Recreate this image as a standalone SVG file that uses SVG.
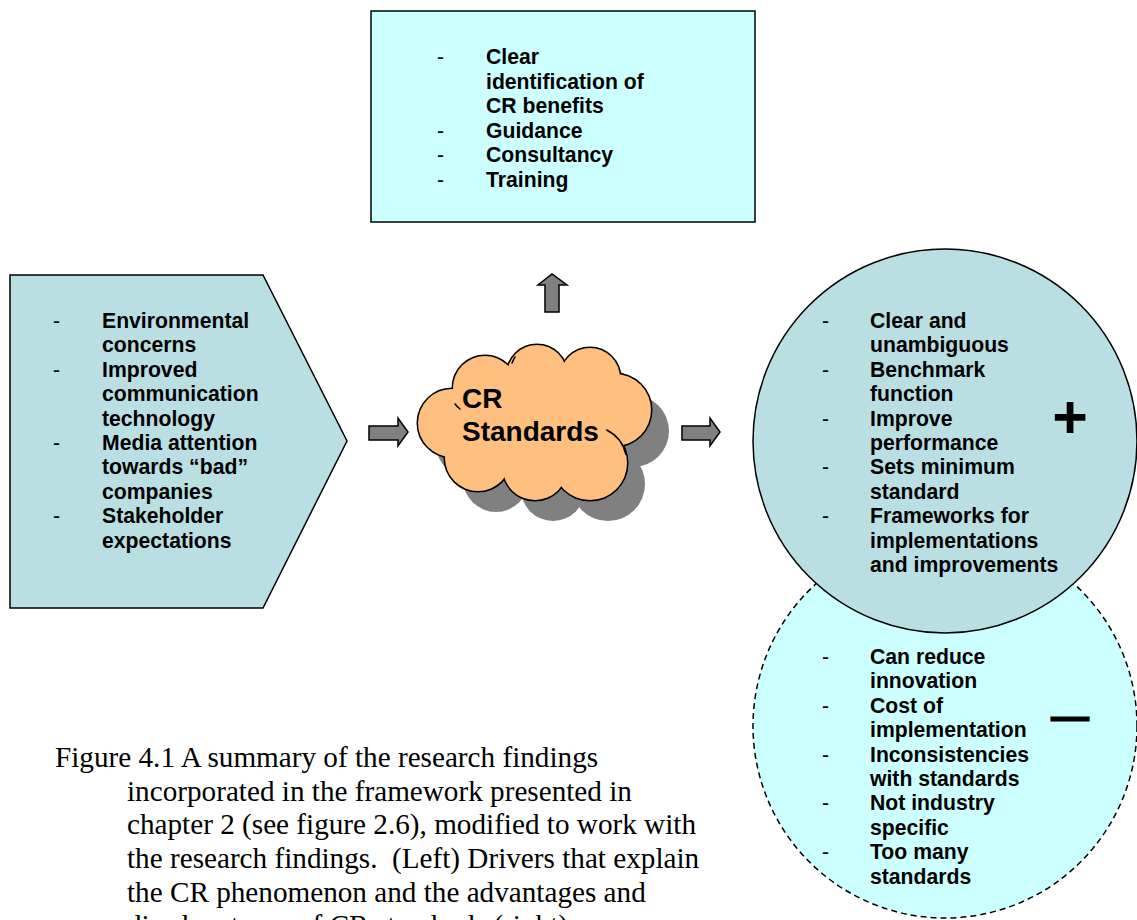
<svg xmlns="http://www.w3.org/2000/svg" width="1137" height="920" viewBox="0 0 1137 920">
  <style>
    .bul { font-family: "Liberation Sans", Arial, sans-serif; font-size: 21.2px; font-weight: bold; fill: #000; }
    .dash { font-family: "Liberation Sans", Arial, sans-serif; font-size: 21.2px; fill: #000; }
    .cap { font-family: "Liberation Serif", "Times New Roman", serif; font-size: 29.2px; fill: #000; white-space: pre; }
    .title { font-family: "Liberation Sans", Arial, sans-serif; font-size: 28px; font-weight: bold; fill: #000; }
    .edge { stroke: #000; stroke-width: 1.5; }
    .blk { fill: #808080; stroke: #000; stroke-width: 1.5; stroke-linejoin: miter; }
  </style>
  <defs>
    <!-- bumps that make up the cloud outline -->
    <g id="cloudBumps">
      <circle cx="452" cy="423" r="34"/>
      <circle cx="485" cy="388" r="32"/>
      <circle cx="537" cy="375" r="30"/>
      <circle cx="590" cy="378" r="30"/>
      <circle cx="615" cy="410" r="36"/>
      <circle cx="590" cy="463" r="37"/>
      <circle cx="535" cy="468" r="32"/>
      <circle cx="478" cy="458" r="33"/>
      <circle cx="540" cy="425" r="55"/>
    </g>
  </defs>
  <rect width="1137" height="920" fill="#fff"/>

  <!-- top box: support offered -->
  <g id="support">
    <rect x="371" y="11" width="384" height="211" fill="#CCFFFF" class="edge"/>
    <text class="dash" x="437" y="64">-</text>
    <text class="bul" x="486" y="64">Clear</text>
    <text class="bul" x="486" y="88.6">identification of</text>
    <text class="bul" x="486" y="113.2">CR benefits</text>
    <text class="dash" x="437" y="137.8">-</text>
    <text class="bul" x="486" y="137.8">Guidance</text>
    <text class="dash" x="437" y="162.4">-</text>
    <text class="bul" x="486" y="162.4">Consultancy</text>
    <text class="dash" x="437" y="187">-</text>
    <text class="bul" x="486" y="187">Training</text>
  </g>

  <!-- left pentagon: drivers -->
  <g id="drivers">
    <polygon points="10,275 263,275 347,441 263,608 10,608" fill="#BADFE3" class="edge"/>
    <text class="dash" x="53" y="328">-</text>
    <text class="bul" x="102" y="328">Environmental</text>
    <text class="bul" x="102" y="352.4">concerns</text>
    <text class="dash" x="53" y="376.8">-</text>
    <text class="bul" x="102" y="376.8">Improved</text>
    <text class="bul" x="102" y="401.2">communication</text>
    <text class="bul" x="102" y="425.6">technology</text>
    <text class="dash" x="53" y="450">-</text>
    <text class="bul" x="102" y="450">Media attention</text>
    <text class="bul" x="102" y="474.4">towards “bad”</text>
    <text class="bul" x="102" y="498.8">companies</text>
    <text class="dash" x="53" y="523.2">-</text>
    <text class="bul" x="102" y="523.2">Stakeholder</text>
    <text class="bul" x="102" y="547.6">expectations</text>
  </g>

  <!-- centre cloud -->
  <g id="cr-standards">
    <use href="#cloudBumps" transform="translate(18,21)" fill="#808080"/>
    <use href="#cloudBumps" fill="#FFBF7F" stroke="#000" stroke-width="3"/>
    <use href="#cloudBumps" fill="#FFBF7F"/>
    <g fill="none" stroke="#000" stroke-width="1.5" stroke-linecap="round">
      <path d="M606.7 430 A37 37 0 0 1 626 454.5"/>
      <path d="M455 404 A32 32 0 0 0 460 409"/>
      <path d="M512 363 A30 30 0 0 1 515 357"/>
    </g>
    <text class="title" x="462" y="408">CR</text>
    <text class="title" x="462" y="441">Standards</text>
  </g>

  <!-- block arrows -->
  <g id="connectors">
    <polygon class="blk" points="369,426 398,426 398,418 408,432 398,446 398,440 369,440"/>
    <polygon class="blk" points="682,426 710,426 710,418 720,432 710,446 710,440 682,440"/>
    <polygon class="blk" points="545,312 545,285 538,285 552,274 567,285 559,285 559,312"/>
  </g>

  <!-- disadvantages circle (dashed, behind) -->
  <g id="disadvantages">
    <circle cx="945" cy="726" r="192" fill="#CCFFFF" stroke="#000" stroke-width="1.5" stroke-dasharray="6,4"/>
  </g>

  <!-- advantages circle -->
  <g id="advantages">
    <circle cx="945" cy="441" r="192" fill="#BADFE3" class="edge"/>
    <text class="dash" x="822" y="328">-</text>
    <text class="bul" x="870" y="328">Clear and</text>
    <text class="bul" x="870" y="352.4">unambiguous</text>
    <text class="dash" x="822" y="376.8">-</text>
    <text class="bul" x="870" y="376.8">Benchmark</text>
    <text class="bul" x="870" y="401.2">function</text>
    <text class="dash" x="822" y="425.6">-</text>
    <text class="bul" x="870" y="425.6">Improve</text>
    <text class="bul" x="870" y="450">performance</text>
    <text class="dash" x="822" y="474.4">-</text>
    <text class="bul" x="870" y="474.4">Sets minimum</text>
    <text class="bul" x="870" y="498.8">standard</text>
    <text class="dash" x="822" y="523.2">-</text>
    <text class="bul" x="870" y="523.2">Frameworks for</text>
    <text class="bul" x="870" y="547.6">implementations</text>
    <text class="bul" x="870" y="572">and improvements</text>
    <text x="1070" y="438" text-anchor="middle" font-family="Liberation Sans, Arial, sans-serif" font-weight="bold" font-size="61">+</text>
  </g>

  <!-- disadvantages text -->
  <g id="disadvantages-text">
    <text class="dash" x="822" y="664">-</text>
    <text class="bul" x="870" y="664">Can reduce</text>
    <text class="bul" x="870" y="688.4">innovation</text>
    <text class="dash" x="822" y="712.8">-</text>
    <text class="bul" x="870" y="712.8">Cost of</text>
    <text class="bul" x="870" y="737.2">implementation</text>
    <text class="dash" x="822" y="761.6">-</text>
    <text class="bul" x="870" y="761.6">Inconsistencies</text>
    <text class="bul" x="870" y="786">with standards</text>
    <text class="dash" x="822" y="810.4">-</text>
    <text class="bul" x="870" y="810.4">Not industry</text>
    <text class="bul" x="870" y="834.8">specific</text>
    <text class="dash" x="822" y="859.2">-</text>
    <text class="bul" x="870" y="859.2">Too many</text>
    <text class="bul" x="870" y="883.6">standards</text>
    <text x="1070" y="730" text-anchor="middle" font-family="Liberation Sans, Arial, sans-serif" font-weight="bold" font-size="38" stroke="#000" stroke-width="1.2">—</text>
  </g>

  <!-- caption (last line runs past the bottom edge) -->
  <g id="caption">
    <text class="cap" x="55" y="767">Figure 4.1 A summary of the research findings</text>
    <text class="cap" x="127" y="800.7">incorporated in the framework presented in</text>
    <text class="cap" x="127" y="834.3">chapter 2 (see figure 2.6), modified to work with</text>
    <text class="cap" x="127" y="868" xml:space="preserve">the research findings.  (Left) Drivers that explain</text>
    <text class="cap" x="127" y="901.7">the CR phenomenon and the advantages and</text>
    <text class="cap" x="127" y="935.4">disadvantages of CR standards (right).</text>
  </g>
</svg>
